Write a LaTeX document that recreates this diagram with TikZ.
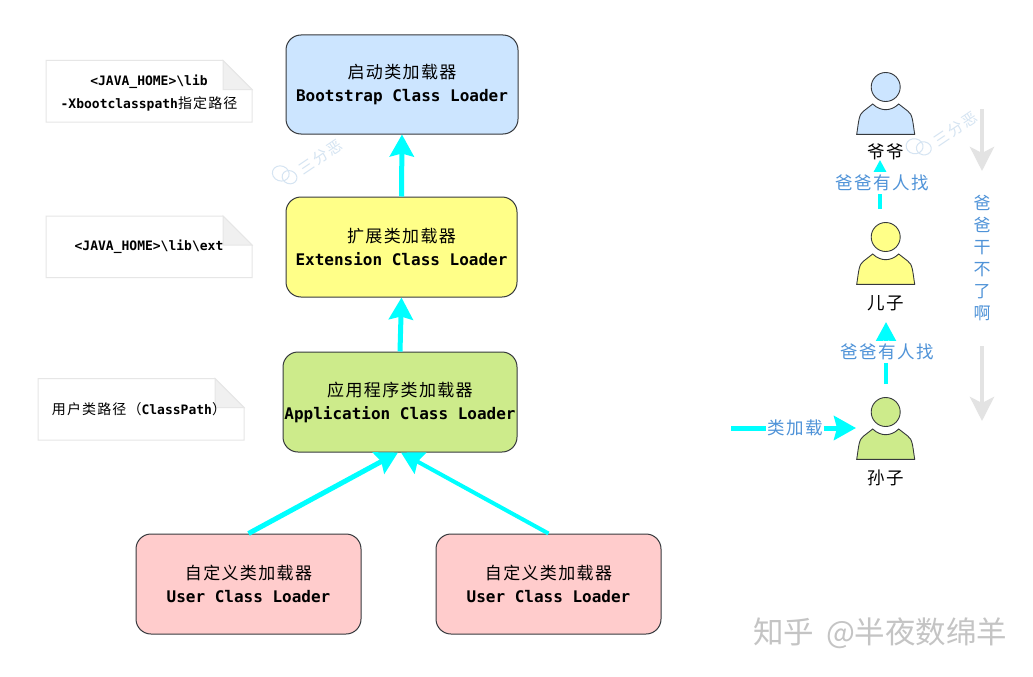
\documentclass[tikz,border=0pt]{standalone}
\usepackage{fontspec}
\usetikzlibrary{arrows.meta,shapes.misc}
\newfontfamily\cjkf[LetterSpace=8]{Noto Sans CJK SC}
\newfontfamily\cjkwide[LetterSpace=12]{Noto Sans CJK SC}
\newfontfamily\cjkplain{Noto Sans CJK SC}
\newfontfamily\monob[BoldFont={DejaVu Sans Mono Bold}]{DejaVu Sans Mono}
\newcommand\lbl[2]{{\fontsize{17}{23}\selectfont\cjkf #1}\\{\fontsize{16}{23}\selectfont\monob\bfseries #2}}
\newcommand\nt[1]{{\fontsize{13}{22}\selectfont\monob\bfseries #1}}
\newcommand\ntc[1]{{\fontsize{14}{22}\selectfont\cjkf #1}}
\newcommand\person[4]{%
  \begin{scope}[shift={(#2,#3)}]
    \draw[personline,fill=#4] (-29,47.3) .. controls (-27,35) and (-27,27) .. (-22,24) -- (-13,17)
      .. controls (-9,21) and (-4,22.7) .. (0,22.7) .. controls (4,22.7) and (9,21) .. (13,17)
      -- (22,24) .. controls (27,27) and (27,35) .. (29,47.3) -- cycle;
    \node[personline,draw,circle,fill=#4,minimum size=29pt,inner sep=0pt] (#1) at (0,0) {};
  \end{scope}}
\newcommand\notesheet[5]{% x0,y0,x1,y1,foldname
  \draw[noteline,fill=white] (#1,#2) -- (#3-29,#2) -- (#3,#2+29) -- (#3,#4) -- (#1,#4) -- cycle;
  \draw[noteline,fill=notefold] (#3-29,#2) -- (#3,#2+29) -- (#3-29,#2+29) -- cycle;
  \coordinate (#5) at (#1,#2);}
\newcommand\chaticon[3]{% x,y,rot
  \begin{scope}[shift={(#1,#2)},rotate=#3]
    \draw[wm,line width=1pt] (-4.5,0) ellipse [x radius=8.5,y radius=7.5];
    \draw[wm,line width=1pt] (5,0.5) ellipse [x radius=7.5,y radius=6.5];
  \end{scope}}
\definecolor{bootc}{HTML}{CCE5FF}
\definecolor{extc}{HTML}{FFFF88}
\definecolor{appc}{HTML}{CDEB8B}
\definecolor{userc}{HTML}{FFCCCC}
\definecolor{edgec}{HTML}{36393D}
\definecolor{noteb}{HTML}{E6E6E6}
\definecolor{notefold}{HTML}{F0F0F0}
\definecolor{arrowc}{HTML}{00FFFF}
\definecolor{labelc}{HTML}{4F93D8}
\definecolor{grayarrow}{HTML}{E3E3E3}
\definecolor{wmc}{HTML}{D5E4F2}
\definecolor{zhc}{HTML}{C4C4C4}
\tikzset{
  box/.style={draw=edgec,line width=1pt,rounded corners=15pt,align=center,inner sep=0pt,font=\fontsize{16}{23}\selectfont},
  personline/.style={draw=edgec,line width=0.9pt},
  noteline/.style={draw=noteb,line width=1pt},
  flow/.style={draw=arrowc,line width=5pt,-{Stealth[length=22pt,width=24pt,inset=3pt]}},
  thinflow/.style={draw=arrowc,line width=4.5pt,-{Stealth[length=20pt,width=21pt,inset=2pt]}},
  backflow/.style={draw=grayarrow,line width=4.5pt,-{Stealth[length=24pt,width=24pt,inset=6pt]}},
  blab/.style={fill=white,inner sep=1pt,text=labelc,font=\fontsize{17.5}{22}\selectfont\cjkf},
  plab/.style={text=black,font=\fontsize{17.5}{22}\selectfont\cjkf},
  wm/.style={draw=wmc},
  wmtext/.style={rotate=34,text=wmc,inner sep=0pt,font=\fontsize{15}{15}\selectfont\cjkwide},
}
\begin{document}
\begin{tikzpicture}[x=1pt,y=-1pt]
\useasboundingbox (0,0) rectangle (1033,677);
\fill[white] (0,0) rectangle (1033,677);

% loader boxes
\node[box,fill=bootc,minimum width=232pt,minimum height=99pt] (boot) at (402,84.5) {\lbl{启动类加载器}{Bootstrap Class Loader}};
\node[box,fill=extc,minimum width=231pt,minimum height=100pt] (ext) at (401.5,247) {\lbl{扩展类加载器}{Extension Class Loader}};
\node[box,fill=appc,minimum width=234pt,minimum height=100pt] (app) at (400,402) {\lbl{应用程序类加载器}{Application Class Loader}};
\node[box,fill=userc,minimum width=225pt,minimum height=100pt] (user1) at (248.5,584) {\lbl{自定义类加载器}{User Class Loader}};
\node[box,fill=userc,minimum width=225pt,minimum height=100pt] (user2) at (548.5,584) {\lbl{自定义类加载器}{User Class Loader}};

% loader arrows
\draw[flow] (ext.north) -- (boot.south);
\draw[flow] (app.north) -- (ext.south);
\draw[flow] (user1.north) -- ([xshift=-2pt]app.south);
\draw[flow,line width=4pt] (user2.north) -- ([xshift=1pt]app.south);

% notes
\notesheet{46}{60.5}{252}{122}{n1}
\notesheet{46}{216}{252}{277.5}{n2}
\notesheet{38}{378.5}{244}{440}{n3}
\node[align=center,inner sep=0pt] (note1a) at (149,82) {\nt{<JAVA\_HOME>\textbackslash lib}};
\node[align=center,inner sep=0pt] (note1b) at (149,104) {\nt{-Xbootclasspath}\ntc{指定路径}};
\node[align=center,inner sep=0pt] (note2) at (149,247) {\nt{<JAVA\_HOME>\textbackslash lib\textbackslash ext}};
\node[align=center,inner sep=0pt] (note3) at (139,409) {\ntc{用户类路径（}\nt{ClassPath}\ntc{）}};

% persons
\person{grandpa}{885.7}{87}{bootc}
\person{son}{885.7}{237}{extc}
\person{grandson}{885.7}{412}{appc}
\node[plab] (grandpaL) at (886,152) {爷爷};
\node[plab] (sonL) at (886,303) {儿子};
\node[plab] (grandsonL) at (886,478) {孙子};

% person arrows
\coordinate (a1s) at (880,209);
\coordinate (a1e) at (880,160);
\coordinate (a2s) at (886,384);
\coordinate (a2e) at (886,322);
\coordinate (a3s) at (731,428);
\coordinate (a3e) at (856,428);
\draw[thinflow] (a1s) -- (a1e);
\draw[thinflow] (a2s) -- (a2e);
\draw[flow] (a3s) -- (a3e);
\node[blab,minimum height=22pt] (l1) at (882,183) {爸爸有人找};
\node[blab,minimum height=22pt] (l2) at (887,352) {爸爸有人找};
\node[blab] (l3) at (795,428) {类加载};

% gray arrows and vertical text
\coordinate (g1s) at (982,109);
\coordinate (g1e) at (982,171);
\coordinate (g2s) at (982,346);
\coordinate (g2e) at (982,421);
\draw[backflow] (g1s) -- (g1e);
\draw[backflow] (g2s) -- (g2e);
\node[align=center,inner sep=0pt,text=labelc,font=\fontsize{17}{22}\selectfont\cjkplain] (vtext) at (982,258) {爸\\爸\\干\\不\\了\\啊};

% watermarks
\chaticon{285}{175}{-20}
\node[wmtext] (wm1) at (321,157) {三分恶};
\chaticon{919}{147}{-10}
\node[wmtext] (wm2) at (956,129) {三分恶};
\node[text=zhc,inner sep=0pt,anchor=west,font=\fontsize{30.5}{30}\selectfont\cjkplain] (zhihu) at (753,633) {知乎 \hspace{5pt}@半夜数绵羊};
\end{tikzpicture}
\end{document}
